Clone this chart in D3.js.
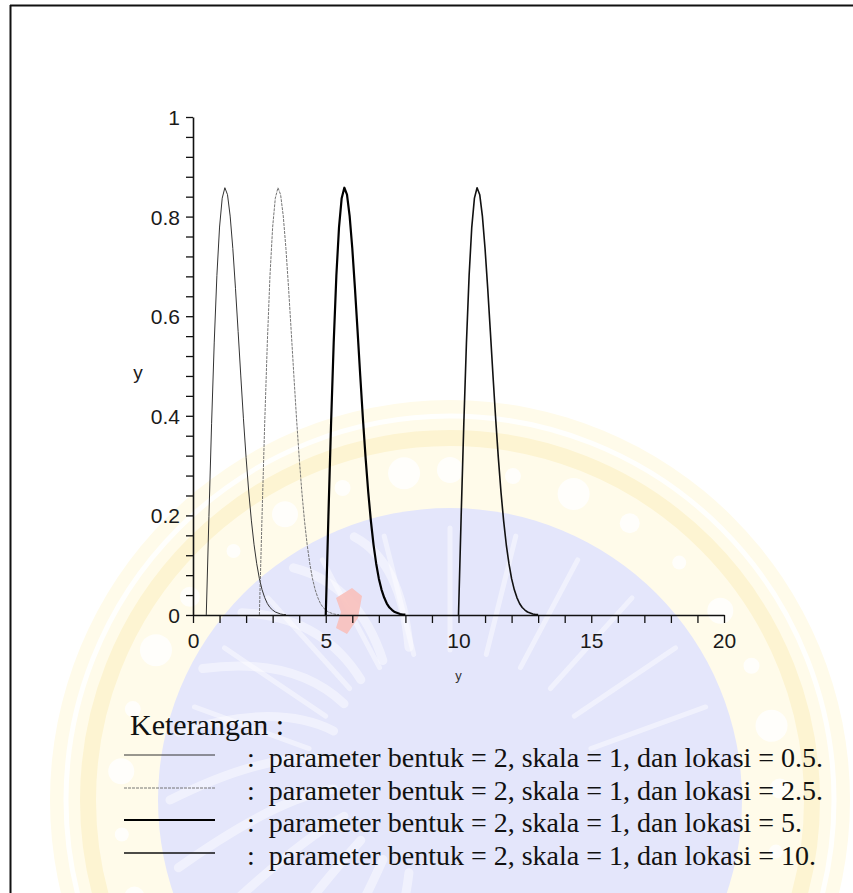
<!DOCTYPE html>
<html>
<head>
<meta charset="utf-8">
<script src="https://cdn.jsdelivr.net/npm/d3@7"></script>
<style>
  html, body { margin: 0; padding: 0; background: #fff; }
  svg { display: block; }
  .tick text { font-family: "Liberation Sans", Arial, sans-serif; font-size: 21px; fill: #1a1a1a; }
</style>
</head>
<body>
<svg id="chart" width="853" height="893"></svg>
<script>
// Weibull densities (shape 2, scale 1) for four locations.
// Density, as a function of distance from the location.
const offsets = [0, 0.1, 0.2, 0.3, 0.4, 0.5, 0.6, 0.7, 0.8, 0.9, 1.0,
                 1.1, 1.2, 1.3, 1.4, 1.5, 1.6, 1.7, 1.8, 1.9, 2.0,
                 2.1, 2.2, 2.3, 2.4, 2.5, 2.6, 2.7, 2.8, 2.9, 3.0];
const density = [0, 0.198, 0.384, 0.548, 0.682, 0.779, 0.837, 0.858, 0.844, 0.801, 0.736,
                 0.656, 0.569, 0.480, 0.394, 0.316, 0.247, 0.189, 0.141, 0.103, 0.073,
                 0.051, 0.035, 0.023, 0.015, 0.010, 0.006, 0.004, 0.002, 0.001, 0.001];
const locations = [0.5, 2.5, 5, 10];
const legendLabels = [
  ":  parameter bentuk = 2, skala = 1, dan lokasi = 0.5.",
  ":  parameter bentuk = 2, skala = 1, dan lokasi = 2.5.",
  ":  parameter bentuk = 2, skala = 1, dan lokasi = 5.",
  ":  parameter bentuk = 2, skala = 1, dan lokasi = 10."
];
const xTickLabels = ["0", "5", "10", "15", "20"];
const yTickLabels = ["0", "0.2", "0.4", "0.6", "0.8", "1"];

// Line look of each series, in legend order.
const seriesStyle = [
  { stroke: "#333", width: 1.0, dash: null },
  { stroke: "#666", width: 0.9, dash: "3,1" },
  { stroke: "#000", width: 2.2, dash: null },
  { stroke: "#111", width: 1.6, dash: null }
];

const svg = d3.select("#chart");

// ---- faint university seal in the page background ----
const seal = svg.append("g").attr("class", "seal");
const cx = 450, cy = 800;
seal.append("circle").attr("cx", cx).attr("cy", cy).attr("r", 400).attr("fill", "#fffbea");
seal.append("circle").attr("cx", cx).attr("cy", cy).attr("r", 384)
  .attr("fill", "none").attr("stroke", "#fff").attr("stroke-width", 5).attr("opacity", 0.9);
seal.append("circle").attr("cx", cx).attr("cy", cy).attr("r", 362)
  .attr("fill", "none").attr("stroke", "#fdf4d2").attr("stroke-width", 16);
seal.append("circle").attr("cx", cx).attr("cy", cy).attr("r", 292).attr("fill", "#e4e6fb");
// white ornaments around the ring
const dots = d3.range(0, 360, 11);
seal.selectAll("circle.dot").data(dots).enter().append("circle")
  .attr("class", "dot")
  .attr("cx", a => cx + 330 * Math.cos((a - 90) * Math.PI / 180))
  .attr("cy", a => cy + 330 * Math.sin((a - 90) * Math.PI / 180))
  .attr("r", (a, i) => [13, 8, 16, 10, 7][i % 5])
  .attr("fill", "#fff").attr("opacity", 0.8);
// light streaks in the inner disc
const streaks = d3.range(-70, 80, 14);
seal.selectAll("path.streak").data(streaks).enter().append("path")
  .attr("class", "streak")
  .attr("d", a => {
    const r0 = 120, r1 = 280;
    const t = (a + 90) * Math.PI / 180;
    const x0 = cx + r0 * Math.cos(t + Math.PI / 2), y0 = cy - 40 + r0 * Math.sin(t + Math.PI / 2);
    const x1 = cx + r1 * Math.cos(t + Math.PI / 2), y1 = cy + r1 * Math.sin(t + Math.PI / 2);
    return `M${x0},${y0} Q${(x0 + x1) / 2 + 20},${(y0 + y1) / 2 - 30} ${x1},${y1}`;
  })
  .attr("fill", "none").attr("stroke", "#fff").attr("stroke-width", 9)
  .attr("stroke-linecap", "round").attr("opacity", 0.45);
seal.selectAll("path.streak2").data(streaks).enter().append("path")
  .attr("class", "streak2")
  .attr("d", a => {
    const t = (a - 90) * Math.PI / 180;
    const x0 = cx + 150 * Math.cos(t), y0 = cy + 150 * Math.sin(t);
    const x1 = cx + 272 * Math.cos(t), y1 = cy + 272 * Math.sin(t);
    return `M${x0},${y0} L${x1},${y1}`;
  })
  .attr("fill", "none").attr("stroke", "#fff").attr("stroke-width", 5)
  .attr("stroke-linecap", "round").attr("opacity", 0.45);
seal.append("path")
  .attr("d", "M336,598 L352,588 L362,596 L358,618 L347,634 L336,628 L341,612 Z")
  .attr("fill", "#f8c0bb").attr("opacity", 0.9);

// ---- page frame ----
svg.append("line").attr("x1", 10).attr("x2", 853).attr("y1", 5.5).attr("y2", 5.5)
  .attr("stroke", "#111").attr("stroke-width", 2);
svg.append("line").attr("x1", 10.5).attr("x2", 10.5).attr("y1", 5).attr("y2", 893)
  .attr("stroke", "#111").attr("stroke-width", 2);

// ---- scales and axes ----
const x = d3.scaleLinear().domain([0, 20]).range([193, 724]);
const y = d3.scaleLinear().domain([0, 1]).range([615, 117]);

const xMinor = d3.range(0, 21, 1);
const yMinor = d3.range(0, 26).map(i => +(i * 0.04).toFixed(2));

const xAxis = d3.axisBottom(x)
  .tickValues(xMinor)
  .tickSize(8).tickSizeOuter(0).tickPadding(10)
  .tickFormat(d => (d % 5 === 0 ? xTickLabels[d / 5] : ""));
const yAxis = d3.axisLeft(y)
  .tickValues(yMinor)
  .tickSize(7).tickSizeOuter(0).tickPadding(6)
  .tickFormat(d => {
    const k = d / 0.2;
    return Math.abs(k - Math.round(k)) < 1e-6 ? yTickLabels[Math.round(k)] : "";
  });

const gx = svg.append("g").attr("transform", `translate(0,${y(0)})`).call(xAxis);
const gy = svg.append("g").attr("transform", `translate(${x(0)},0)`).call(yAxis);
[gx, gy].forEach(g => {
  g.select(".domain").attr("stroke", "#111").attr("stroke-width", 1.6);
  g.selectAll(".tick line").attr("stroke", "#111").attr("stroke-width", 1.3);
});
gy.selectAll(".tick text").attr("dy", "0.36em");

// axis titles
svg.append("text").attr("x", 138).attr("y", 379)
  .attr("text-anchor", "middle")
  .style("font-family", "Liberation Sans, Arial, sans-serif").style("font-size", "19px")
  .attr("fill", "#1a1a1a").text("y");
svg.append("text").attr("x", x(10)).attr("y", 680)
  .attr("text-anchor", "middle")
  .style("font-family", "Liberation Sans, Arial, sans-serif").style("font-size", "13px")
  .attr("fill", "#333").text("y");

// ---- density curves ----
const line = d3.line()
  .x(d => x(d.x))
  .y(d => y(d.y));

locations.forEach((loc, i) => {
  const pts = offsets.map((o, j) => ({ x: loc + o, y: density[j] }));
  const st = seriesStyle[i];
  svg.append("path")
    .datum(pts)
    .attr("d", line)
    .attr("fill", "none")
    .attr("stroke", st.stroke)
    .attr("stroke-width", st.width)
    .attr("stroke-dasharray", st.dash)
    .attr("stroke-linejoin", "round");
});

// ---- legend ----
svg.append("text").attr("x", 130).attr("y", 735)
  .style("font-family", "Liberation Serif, 'Times New Roman', serif").style("font-size", "30px")
  .attr("fill", "#111").text("Keterangan :");

const legendY = [755, 788, 820, 853];
const legendTextY = [767, 800, 832, 865];
legendLabels.forEach((lab, i) => {
  const st = seriesStyle[i];
  svg.append("line")
    .attr("x1", 124).attr("x2", 215)
    .attr("y1", legendY[i]).attr("y2", legendY[i])
    .attr("stroke", st.stroke)
    .attr("stroke-width", st.width)
    .attr("stroke-dasharray", st.dash);
  svg.append("text").attr("x", 247).attr("y", legendTextY[i])
    .attr("xml:space", "preserve")
    .style("white-space", "pre")
    .style("font-family", "Liberation Serif, 'Times New Roman', serif").style("font-size", "28px")
    .attr("fill", "#111").text(lab);
});
</script>
</body>
</html>
